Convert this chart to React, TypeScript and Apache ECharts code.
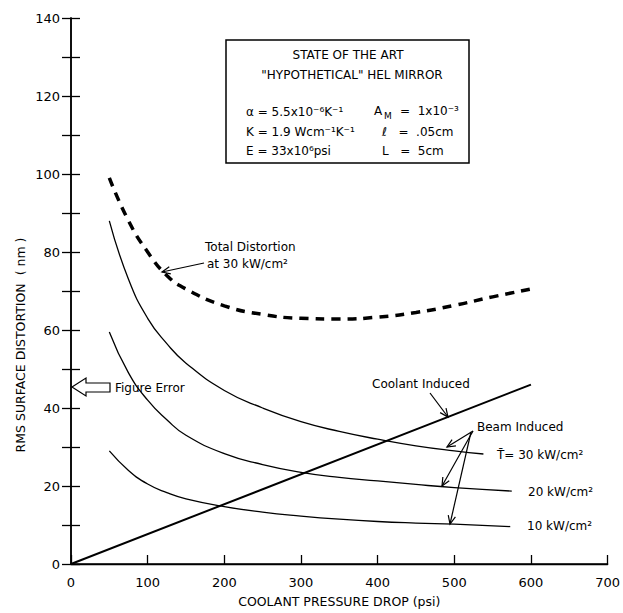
import React, { useEffect, useRef } from "react";
import * as echarts from "echarts";

const xTicks = [0, 100, 200, 300, 400, 500, 600, 700];
const yTicks = [0, 20, 40, 60, 80, 100, 120, 140];

const totalDistortion: [number, number][] = [
  [50, 99], [75, 88], [100, 80], [125, 74], [150, 70.5], [200, 66.2], [250, 64],
  [300, 63], [350, 62.8], [400, 63.3], [450, 64.5], [500, 66.3], [550, 68.5], [600, 70.5],
];
const beam30: [number, number][] = [
  [50, 88], [75, 73], [100, 63], [125, 56.5], [150, 51.5], [200, 44.5], [250, 40],
  [300, 36.5], [350, 34], [400, 32], [450, 30.3], [500, 29], [538, 28.2],
];
const beam20: [number, number][] = [
  [50, 59.5], [75, 49], [100, 42], [125, 37], [150, 33], [200, 28.3], [250, 25.5],
  [300, 23.5], [350, 22.2], [400, 21.3], [450, 20.4], [500, 19.6], [575, 18.7],
];
const beam10: [number, number][] = [
  [50, 29], [75, 24], [100, 20.5], [125, 18.3], [150, 16.7], [200, 14.7], [250, 13.3],
  [300, 12.3], [350, 11.5], [400, 10.9], [450, 10.5], [500, 10.2], [573, 9.6],
];
const coolant: [number, number][] = [[0, 0], [600, 46]];

const FF = '"DejaVu Sans", sans-serif';

function txt(text: string, x: number, y: number, size = 12, align = "left") {
  return {
    type: "text",
    x,
    y,
    style: {
      text,
      fill: "#000",
      fontSize: size,
      fontFamily: FF,
      textAlign: align,
      textVerticalAlign: "middle",
      align,
      verticalAlign: "middle",
    },
  };
}

function arrow(x1: number, y1: number, x2: number, y2: number) {
  const ang = Math.atan2(y1 - y2, x1 - x2);
  const L = 9;
  const a = 0.42;
  const p1 = [x2 + L * Math.cos(ang + a), y2 + L * Math.sin(ang + a)];
  const p2 = [x2 + L * Math.cos(ang - a), y2 + L * Math.sin(ang - a)];
  return [
    { type: "line", shape: { x1, y1, x2, y2 }, style: { stroke: "#000", lineWidth: 1.2 } },
    { type: "polyline", shape: { points: [p1, [x2, y2], p2] }, style: { stroke: "#000", lineWidth: 1.2, fill: null } },
  ];
}

export default function App() {
  const ref = useRef<HTMLDivElement>(null);
  useEffect(() => {
    if (!ref.current) return;
    const chart = echarts.init(ref.current, null, { renderer: "svg" });
    const lineSeries = (data: [number, number][], width: number, type: any = "solid") => ({
      type: "line",
      data,
      smooth: 0.5,
      showSymbol: false,
      symbol: "none",
      lineStyle: { color: "#000", width, type },
      z: 3,
    });
    const graphic: any[] = [
      {
        type: "rect",
        shape: { x: 226, y: 40, width: 243, height: 123 },
        style: { stroke: "#000", lineWidth: 1.5, fill: "none" },
      },
      txt("STATE OF THE ART", 348, 55, 12, "center"),
      txt('"HYPOTHETICAL" HEL MIRROR', 352, 75, 12, "center"),
      txt("α = 5.5x10⁻⁶K⁻¹", 246, 112, 12),
      txt("A", 374, 111, 12),
      txt("M", 384, 116, 9),
      txt("=  1x10⁻³", 400, 111, 12),
      txt("K = 1.9 Wcm⁻¹K⁻¹", 246, 132, 12),
      txt("ℓ   =  .05cm", 382, 132, 12),
      txt("E = 33x10⁶psi", 246, 151, 12),
      txt("L   =  5cm", 382, 151, 12),
      txt("Total Distortion", 205, 247, 12),
      txt("at 30 kW/cm²", 207, 264, 12),
      ...arrow(204, 263, 162, 272),
      {
        type: "polygon",
        shape: {
          points: [[72, 387], [86, 378], [86, 383], [110, 383], [110, 392], [86, 392], [86, 396]],
        },
        style: { stroke: "#000", lineWidth: 1.2, fill: "#fff" },
      },
      txt("Figure Error", 115, 388, 12),
      txt("Coolant Induced", 372, 384, 12),
      ...arrow(430, 393, 448, 417),
      txt("Beam Induced", 477, 427, 12),
      ...arrow(473, 431, 447, 447),
      ...arrow(473, 431, 442, 486),
      ...arrow(471, 432, 450, 524),
      txt("T\u0304= 30 kW/cm²", 497, 455, 12),
      txt("20 kW/cm²", 528, 492, 12),
      txt("10 kW/cm²", 527, 526, 12),
      {
        type: "text",
        x: 20,
        y: 345,
        rotation: Math.PI / 2,
        style: {
          text: "RMS SURFACE DISTORTION  ( nm )",
          fill: "#000",
          fontSize: 12.5,
          fontFamily: FF,
          textAlign: "center",
          textVerticalAlign: "middle",
          align: "center",
          verticalAlign: "middle",
        },
      },
    ];
    chart.setOption({
      animation: false,
      backgroundColor: "#fff",
      grid: { left: 71, top: 18, width: 545, height: 546, show: false },
      xAxis: [
        {
          type: "value",
          min: xTicks[0],
          max: xTicks[xTicks.length - 1],
          interval: 100,
          position: "bottom",
          axisLine: { show: true, lineStyle: { color: "#000", width: 1.5 } },
          axisTick: { show: true, inside: true, length: 9, lineStyle: { color: "#000", width: 1.3 } },
          axisLabel: { color: "#000", fontSize: 13, fontFamily: FF, margin: 12 },
          splitLine: { show: false },
          name: "COOLANT PRESSURE DROP (psi)",
          nameLocation: "middle",
          nameGap: 31,
          nameTextStyle: { color: "#000", fontSize: 12.5, fontFamily: FF },
        },
        {
          type: "value",
          min: xTicks[0],
          max: xTicks[xTicks.length - 1],
          position: "top",
          axisLine: { show: true, lineStyle: { color: "#000", width: 1.3 } },
          axisTick: { show: false },
          axisLabel: { show: false },
          splitLine: { show: false },
        },
      ],
      yAxis: [
        {
          type: "value",
          min: yTicks[0],
          max: yTicks[yTicks.length - 1],
          interval: 10,
          position: "left",
          axisLine: { show: true, lineStyle: { color: "#000", width: 1.5 } },
          axisTick: { show: true, inside: true, length: 9, lineStyle: { color: "#000", width: 1.3 } },
          axisLabel: {
            color: "#000",
            fontSize: 13,
            fontFamily: FF,
            margin: 11,
            formatter: (v: number) => (yTicks.includes(v) ? String(v) : ""),
          },
          splitLine: { show: false },
        },
        {
          type: "value",
          min: yTicks[0],
          max: yTicks[yTicks.length - 1],
          interval: 10,
          position: "right",
          axisLine: { show: true, lineStyle: { color: "#000", width: 1.5 } },
          axisTick: { show: true, inside: true, length: 9, lineStyle: { color: "#000", width: 1.3 } },
          axisLabel: { show: false },
          splitLine: { show: false },
        },
      ],
      series: [
        lineSeries(totalDistortion, 3.5, [9, 7]),
        lineSeries(beam30, 1.3),
        lineSeries(beam20, 1.3),
        lineSeries(beam10, 1.3),
        lineSeries(coolant, 2),
      ],
      graphic,
    });
    return () => chart.dispose();
  }, []);
  return (
    <div
      ref={ref}
      style={{ position: "absolute", left: 0, top: 0, width: 623, height: 613, background: "#fff" }}
    />
  );
}
